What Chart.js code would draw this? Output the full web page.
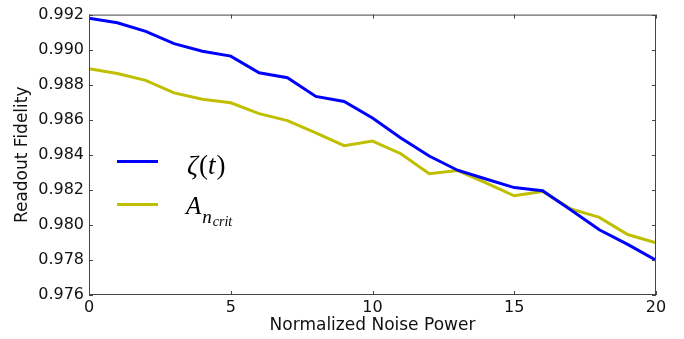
<!DOCTYPE html>
<html>
<head>
<meta charset="utf-8">
<script src="https://cdn.jsdelivr.net/npm/chart.js@4.4.0/dist/chart.umd.min.js"></script>
<style>
html, body { margin: 0; padding: 0; background: #fff; }
#wrap { width: 684px; height: 339px; }
</style>
</head>
<body>
<div id="wrap"><canvas id="chart" width="684" height="339"></canvas></div>
<script>
// x values and the two measured fidelity curves
const noisePower = [0, 1, 2, 3, 4, 5, 6, 7, 8, 9, 10, 11, 12, 13, 14, 15, 16, 17, 18, 19, 20];
const zetaFidelity = [0.99180, 0.99153, 0.99104, 0.99034, 0.98991, 0.98963, 0.98868, 0.98840, 0.98733, 0.98704,
    0.98610, 0.98496, 0.98393, 0.98312, 0.98262, 0.98213, 0.98195, 0.98085, 0.97972, 0.97889, 0.97798];
const ancritFidelity = [0.98891, 0.98864, 0.98825, 0.98753, 0.98717, 0.98697, 0.98635, 0.98595, 0.98525, 0.98452,
    0.98478, 0.98406, 0.98292, 0.98310, 0.98240, 0.98166, 0.98191, 0.98091, 0.98043, 0.97945, 0.97898];

const xTicks = [0, 5, 10, 15, 20];
const yTicks = [0.976, 0.978, 0.980, 0.982, 0.984, 0.986, 0.988, 0.990, 0.992];

const BLUE = '#0000ff';
const OLIVE = '#bfbf00';
const FONT = 'DejaVu Sans';
const SERIF = '"Liberation Serif"';

// matplotlib-style box with inward ticks
const framePlugin = {
    id: 'frame',
    afterDraw(chart) {
        const { ctx, chartArea: a, scales } = chart;
        ctx.save();
        ctx.strokeStyle = '#444';
        ctx.lineWidth = 1;
        ctx.strokeRect(a.left + 0.5, a.top + 0.5, a.right - a.left - 1, a.bottom - a.top - 1);
        ctx.beginPath();
        xTicks.forEach(v => {
            const x = Math.round(scales.x.getPixelForValue(v)) + 0.5;
            ctx.moveTo(x, a.bottom); ctx.lineTo(x, a.bottom - 4);
            ctx.moveTo(x, a.top); ctx.lineTo(x, a.top + 4);
        });
        yTicks.forEach(v => {
            const y = Math.round(scales.y.getPixelForValue(v)) + 0.5;
            ctx.moveTo(a.left, y); ctx.lineTo(a.left + 4, y);
            ctx.moveTo(a.right, y); ctx.lineTo(a.right - 4, y);
        });
        ctx.stroke();
        ctx.restore();
    }
};

// legend with math-style labels, placed inside the axes
const legendPlugin = {
    id: 'mathLegend',
    afterDraw(chart) {
        const { ctx, chartArea: a } = chart;
        const x0 = a.left + 28;
        const rows = [
            { color: BLUE, y: a.top + 147 },
            { color: OLIVE, y: a.top + 190 },
        ];
        ctx.save();
        ctx.lineWidth = 3;
        rows.forEach(r => {
            ctx.strokeStyle = r.color;
            ctx.beginPath();
            ctx.moveTo(x0, r.y);
            ctx.lineTo(x0 + 41, r.y);
            ctx.stroke();
        });

        ctx.fillStyle = '#000';
        ctx.textBaseline = 'alphabetic';

        // zeta(t)
        let cx = x0 + 70;
        const base1 = rows[0].y + 12;
        const parts = [
            ['italic 27px ' + SERIF, 'ζ', 1],
            ['27px ' + SERIF, '(', 0],
            ['italic 27px ' + SERIF, 't', 1],
            ['27px ' + SERIF, ')', 0],
        ];
        parts.forEach(([f, s, gap]) => {
            ctx.font = f;
            ctx.fillText(s, cx, base1);
            cx += ctx.measureText(s).width + gap;
        });

        // A_{n_crit}
        cx = x0 + 69;
        const base2 = rows[1].y + 9;
        ctx.font = 'italic 25px ' + SERIF;
        ctx.fillText('A', cx, base2);
        cx += ctx.measureText('A').width + 1;
        ctx.font = 'italic 19px ' + SERIF;
        ctx.fillText('n', cx, base2 + 9);
        cx += ctx.measureText('n').width + 1;
        ctx.font = 'italic 14px ' + SERIF;
        ctx.fillText('crit', cx, base2 + 12);
        ctx.restore();
    }
};

new Chart(document.getElementById('chart'), {
    type: 'line',
    data: {
        datasets: [
            {
                label: 'zeta(t)',
                data: noisePower.map((x, i) => ({ x, y: zetaFidelity[i] })),
                borderColor: BLUE,
                borderWidth: 3,
                pointRadius: 0,
                tension: 0,
            },
            {
                label: 'A_ncrit',
                data: noisePower.map((x, i) => ({ x, y: ancritFidelity[i] })),
                borderColor: OLIVE,
                borderWidth: 3,
                pointRadius: 0,
                tension: 0,
            },
        ],
    },
    options: {
        responsive: false,
        devicePixelRatio: 1,
        animation: false,
        layout: { padding: { left: 0, right: 28, top: 13, bottom: 0 } },
        plugins: {
            legend: { display: false },
            tooltip: { enabled: false },
        },
        scales: {
            x: {
                type: 'linear',
                min: 0,
                max: 20,
                afterBuildTicks: s => { s.ticks = xTicks.map(v => ({ value: v })); },
                afterFit: s => { s.height = 44; },
                grid: { display: false, drawTicks: false },
                border: { display: false },
                ticks: {
                    color: '#111',
                    font: { family: FONT, size: 16 },
                    padding: 3,
                    maxRotation: 0,
                },
                title: {
                    display: true,
                    text: 'Normalized Noise Power',
                    color: '#111',
                    font: { family: FONT, size: 17 },
                    padding: { top: 0, bottom: 3 },
                },
            },
            y: {
                type: 'linear',
                min: 0.976,
                max: 0.992,
                afterBuildTicks: s => { s.ticks = yTicks.map(v => ({ value: v })); },
                afterFit: s => { s.width = 89; },
                grid: { display: false, drawTicks: false },
                border: { display: false },
                ticks: {
                    color: '#111',
                    font: { family: FONT, size: 16 },
                    padding: 5,
                    callback: v => v.toFixed(3),
                },
                title: {
                    display: true,
                    text: 'Readout Fidelity',
                    color: '#111',
                    font: { family: FONT, size: 17 },
                    padding: { top: 12, bottom: 0 },
                },
            },
        },
    },
    plugins: [framePlugin, legendPlugin],
});
</script>
</body>
</html>
